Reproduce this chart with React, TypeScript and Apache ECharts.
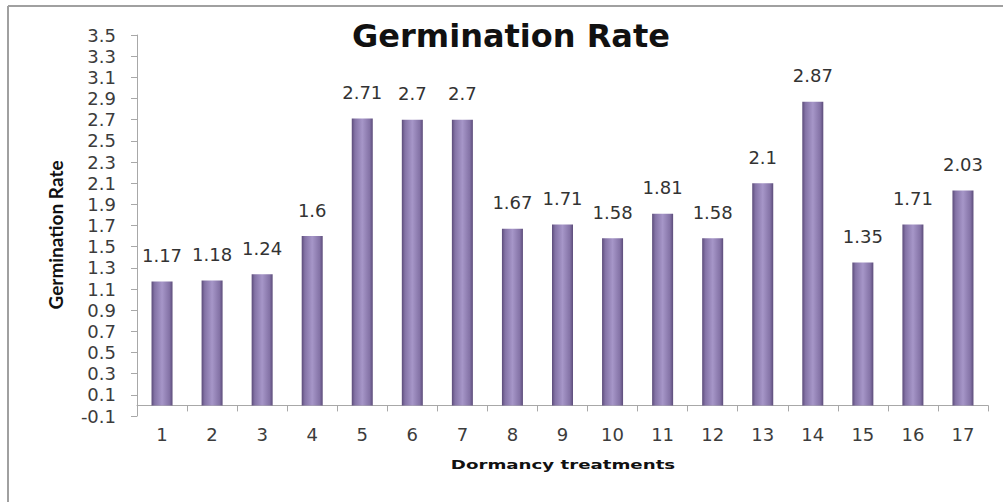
import React, { useEffect, useRef } from "react";
import * as echarts from "echarts";

const categories = ["1", "2", "3", "4", "5", "6", "7", "8", "9", "10", "11", "12", "13", "14", "15", "16", "17"];
const values = [1.17, 1.18, 1.24, 1.6, 2.71, 2.7, 2.7, 1.67, 1.71, 1.58, 1.81, 1.58, 2.1, 2.87, 1.35, 1.71, 2.03];
const titleText = "Germination Rate";
const xName = "Dormancy treatments";
const yName = "Germination Rate";

const LABEL_FONT = "'DejaVu Sans', sans-serif";
const NAME_FONT = "Lato, 'Open Sans', sans-serif";

export default function App() {
  const ref = useRef<HTMLDivElement>(null);
  useEffect(() => {
    if (!ref.current) return;
    const chart = echarts.init(ref.current, undefined, { renderer: "svg" });
    chart.setOption({
      animation: false,
      backgroundColor: "#ffffff",
      grid: { left: 137, right: 15, top: 35, bottom: 86, containLabel: false },
      xAxis: {
        type: "category",
        data: categories,
        axisLine: { lineStyle: { color: "#a8a8a8", width: 1 } },
        axisTick: { show: true, length: 6, lineStyle: { color: "#a8a8a8" } },
        axisLabel: { fontFamily: LABEL_FONT, fontSize: 18, color: "#3c3c3c", margin: 9 },
      },
      yAxis: {
        type: "value",
        min: -0.1,
        max: 3.5,
        interval: 0.2,
        axisLine: { show: true, lineStyle: { color: "#a8a8a8", width: 1 } },
        axisTick: { show: true, length: 6, lineStyle: { color: "#a8a8a8" } },
        axisLabel: { fontFamily: LABEL_FONT, fontSize: 18, color: "#3c3c3c", margin: 21 },
        splitLine: { show: false },
      },
      series: [
        {
          type: "bar",
          data: values,
          barWidth: 21,
          itemStyle: {
            color: new echarts.graphic.LinearGradient(0, 0, 1, 0, [
              { offset: 0, color: "#5c4c7a" },
              { offset: 0.15, color: "#8473a6" },
              { offset: 0.5, color: "#a696c8" },
              { offset: 0.85, color: "#8473a6" },
              { offset: 1, color: "#5c4c7a" },
            ]),
          },
          label: {
            show: true,
            position: "top",
            distance: 17,
            fontFamily: LABEL_FONT,
            fontSize: 18,
            color: "#333",
          },
        },
      ],
      graphic: [
        {
          type: "line",
          shape: { x1: 8, y1: 6, x2: 1003, y2: 6 },
          style: { stroke: "#a0a0a0", lineWidth: 2 },
        },
        {
          type: "line",
          shape: { x1: 8, y1: 6, x2: 8, y2: 502 },
          style: { stroke: "#a0a0a0", lineWidth: 2 },
        },
        {
          type: "text",
          x: 511,
          y: 20,
          style: {
            text: titleText,
            fontFamily: "'DejaVu Sans', sans-serif",
            fontSize: 32,
            fontWeight: "bold",
            fill: "#111",
            textAlign: "center",
            textVerticalAlign: "top",
          },
        },
        {
          type: "text",
          x: 563,
          y: 464,
          scaleX: 1.4,
          style: {
            text: xName,
            fontFamily: "'DejaVu Sans', sans-serif",
            fontSize: 13,
            fontWeight: "bold",
            fill: "#111",
            textAlign: "center",
            textVerticalAlign: "middle",
          },
        },
        {
          type: "text",
          x: 55,
          y: 235,
          rotation: Math.PI / 2,
          style: {
            text: yName,
            fontFamily: NAME_FONT,
            fontSize: 19,
            fontWeight: "bold",
            fill: "#111",
            textAlign: "center",
            textVerticalAlign: "middle",
          },
        },
      ],
    });
    return () => chart.dispose();
  }, []);
  return (
    <div
      ref={ref}
      style={{ position: "fixed", left: 0, top: 0, width: 1003, height: 502 }}
    />
  );
}
